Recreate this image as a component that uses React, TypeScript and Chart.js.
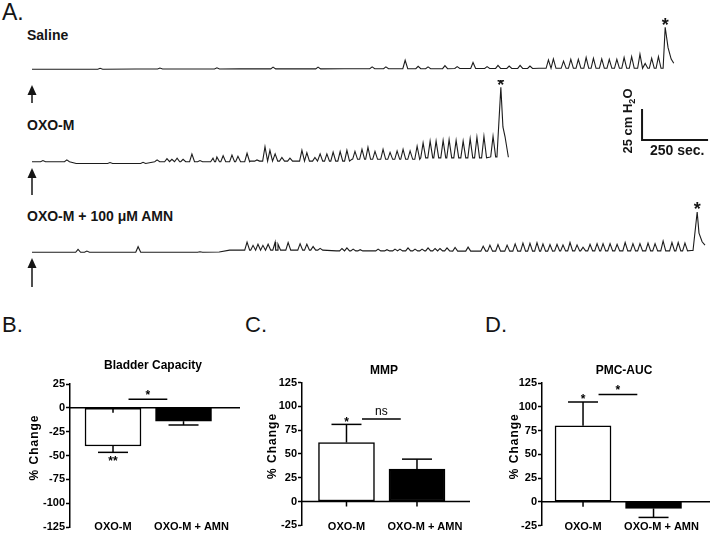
import React, { useEffect, useRef } from 'react';
import { Chart, registerables } from 'chart.js';

Chart.register(...registerables);

const FONT = "'Liberation Sans', Arial, Helvetica, sans-serif";
const INK = '#151515';
Chart.defaults.font.family = FONT;

// ---------------- Panel A: cystometrogram traces (time in s, pressure in cm H2O) ----------------
const salineBaseT = [0, 400, 800, 1200, 1600, 1950];
const salineBaseP = [0, 0.2, 0.3, 0.5, 0.7, 0.8];
const salinePeakT = [262, 492, 711, 927, 1100, 1308, 1361, 1435, 1485, 1523, 1588, 1635, 1696, 1750, 1792, 1835, 1877, 1915,
  1986, 2005, 2044, 2072, 2101, 2131, 2159, 2191, 2220, 2249, 2277, 2306, 2338, 2358, 2383, 2409];
const salinePeakP = [0.8, 0.8, 1, 1.5, 1.5, 1.5, 1.5, 7, 2, 1.5, 2.5, 1.5, 5, 1.5, 2.5, 2, 2.5, 2,
  7, 7.8, 6, 7.5, 7.5, 9, 8.3, 7.8, 7.5, 7.5, 9, 9.7, 11.7, 4, 8.3, 9.7];
const salineVoidT = [2427, 2435, 2446, 2458, 2468];
const salineVoidP = [0.8, 35, 18, 8.5, 5];

const oxoBaseT = [0, 170, 430, 840, 1230, 1495, 1765];
const oxoBaseP = [0, -1.5, 0, 0.5, 2, 3.2, 4];
const oxoPeakT = [42, 134, 300, 427, 481, 519, 538, 558, 581, 615, 646, 696, 711, 735, 769, 792, 827, 865, 896, 915,
  935, 961, 992, 1038, 1057, 1088, 1108, 1134, 1158, 1185, 1211, 1242, 1269, 1292, 1319, 1350, 1377, 1404, 1427, 1454,
  1481, 1504, 1531, 1554, 1581, 1604, 1631, 1658, 1685, 1711, 1738, 1773];
const oxoPeakP = [1, 1.5, 0.8, 1, 1.5, 2.5, 2, 3, 2, 6.4, 1, 3, 4, 5, 5.5, 4.5, 7, 1, 12, 9,
  6, 3, 2.5, 9, 7, 3, 6, 6, 7.5, 8, 9, 6.7, 8.3, 10, 6.7, 8.3, 5.8, 7, 8.3, 7,
  11, 12.5, 14, 14, 14.5, 15.3, 14.5, 14, 16, 17.2, 18, 17.2];
const oxoVoidT = [1788, 1803, 1811, 1819, 1832];
const oxoVoidP = [4, 62, 29, 21, 3.7];

const amnBaseT = [0, 400, 720, 760, 960, 1120, 1170, 1600, 2000, 2535];
const amnBaseP = [0, 0, 0.3, 1.8, 1.8, 0, 1.2, 1.0, 1.2, 1.5];
const amnPeakT = [177, 211, 408, 646, 827, 850, 869, 888, 908, 935, 946, 985, 1031, 1057, 1081, 1108, 1192, 1211, 1235, 1262,
  1331, 1365, 1396, 1415, 1446, 1473, 1500, 1523, 1550, 1569, 1596, 1627, 1677, 1735, 1761, 1792, 1827, 1858, 1888, 1915,
  1942, 1965, 1992, 2019, 2042, 2069, 2096, 2119, 2146, 2173, 2196, 2223, 2250, 2281, 2311, 2338, 2369, 2396, 2427, 2461,
  2485, 2511];
const amnPeakP = [2.5, 1, 4.7, 0.5, 6.7, 4, 5, 4, 5, 6.7, 5, 6.3, 5.4, 5, 3, 1.5, 2, 2.5, 1.5, 1,
  1.5, 1, 1.5, 1.5, 2.5, 1.5, 1.5, 2.5, 2, 2, 2.5, 3, 3.3, 4, 5, 5.5, 5, 6, 6.7, 6.5,
  7, 6, 5.5, 5.5, 5, 7, 5, 3, 5.5, 6, 6, 6, 5.5, 7, 6, 6, 6.5, 6, 8.3, 7,
  7, 6.5];
const amnVoidT = [2542, 2558, 2565, 2577, 2588];
const amnVoidP = [1.5, 33.6, 16, 8.8, 6];

const SCALE_BAR_SEC = 250;
const SCALE_BAR_CM = 25;

// ---------------- Panels B-D: bar data ----------------
const groups = ['OXO-M', 'OXO-M + AMN'];
const capacityMean = [-40, -14];
const capacityErr = [6.7, 4];
const mmpMean = [62, 34];
const mmpErr = [19, 10.5];
const aucMean = [80, -7];
const aucErr = [25, 9.5];
const capacityTicks = { min: -125, max: 25, step: 25 };
const pctTicks = { min: -25, max: 125, step: 25 };

type Pt = { x: number; y: number };
const RISE = 9;
const FALL = 10;

function buildTrace(baseT: number[], baseP: number[], peakT: number[], peakP: number[], voidT: number[], voidP: number[]): Pt[] {
  const pts: Pt[] = [];
  const levelAt = (t: number) => {
    let v = baseP[0];
    for (let i = 0; i < baseT.length; i++) if (baseT[i] <= t) v = baseP[i];
    return v;
  };
  const busy = (t: number) => peakT.some((p) => t >= p - RISE - 2 && t <= p + FALL + 2) || t >= voidT[0];
  baseT.forEach((t, i) => { if (!busy(t)) pts.push({ x: t, y: baseP[i] }); });
  peakT.forEach((t, i) => {
    const b = levelAt(t);
    pts.push({ x: t - RISE, y: b }, { x: t, y: b + peakP[i] }, { x: t + FALL, y: b });
  });
  voidT.forEach((t, i) => pts.push({ x: t, y: voidP[i] }));
  pts.sort((a, b) => a.x - b.x);
  return pts;
}

const tracePlugin = {
  id: 'traceDecor',
  afterDatasetsDraw(chart: any, _a: any, o: any) {
    const { ctx } = chart;
    const xs = chart.scales.x;
    const ys = chart.scales.y;
    const data: Pt[] = chart.data.datasets[0].data;
    let top = data[0];
    for (const p of data) if (p.y > top.y) top = p;
    ctx.save();
    ctx.fillStyle = INK;
    ctx.strokeStyle = INK;
    ctx.font = `bold 18px ${FONT}`;
    ctx.textAlign = 'center';
    ctx.textBaseline = 'alphabetic';
    ctx.fillText('*', xs.getPixelForValue(top.x), ys.getPixelForValue(top.y) - 7 + 0.575 * 18);
    const ax = xs.getPixelForValue(0);
    const yb = ys.getPixelForValue(0);
    const tip = yb + o.arrowTip;
    const bot = yb + o.arrowBottom;
    ctx.lineWidth = 1.5;
    ctx.beginPath();
    ctx.moveTo(ax, bot);
    ctx.lineTo(ax, tip + 6);
    ctx.stroke();
    ctx.beginPath();
    ctx.moveTo(ax, tip);
    ctx.lineTo(ax - 4.5, tip + 10);
    ctx.lineTo(ax + 4.5, tip + 10);
    ctx.closePath();
    ctx.fill();
    if (o.scaleBar) {
      const sb = o.scaleBar;
      const x0 = xs.getPixelForValue(sb.t);
      const y0 = ys.getPixelForValue(sb.p);
      ctx.lineWidth = 2;
      ctx.lineCap = 'square';
      ctx.beginPath();
      ctx.moveTo(x0, ys.getPixelForValue(sb.p + SCALE_BAR_CM));
      ctx.lineTo(x0, y0);
      ctx.lineTo(xs.getPixelForValue(sb.t + SCALE_BAR_SEC), y0);
      ctx.stroke();
    }
    ctx.restore();
  },
};

function traceConfig(pts: Pt[], yMin: number, yMax: number, deco: any): any {
  return {
    type: 'line',
    data: { datasets: [{ data: pts, borderColor: '#1c1c1c', borderWidth: 1.1, pointRadius: 0, tension: 0, fill: false }] },
    options: {
      animation: false,
      responsive: false,
      events: [],
      layout: { padding: { left: 12, right: 0, top: 0, bottom: 0 } },
      scales: {
        x: { type: 'linear', min: 0, max: 2615, display: false, offset: false },
        y: { type: 'linear', min: yMin, max: yMax, display: false },
      },
      plugins: { legend: { display: false }, tooltip: { enabled: false }, traceDecor: deco },
    },
    plugins: [tracePlugin],
  };
}

const glyph = (ctx: any, s: string, cx: number, cy: number) => {
  const isStar = s.includes('*');
  const size = 12;
  ctx.font = `${isStar ? 'bold ' : ''}${size}px ${FONT}`;
  ctx.textAlign = 'center';
  ctx.textBaseline = 'alphabetic';
  ctx.fillText(s, cx, cy + (isStar ? 0.575 : 0.26) * size);
};

const barPlugin = {
  id: 'panelDecor',
  afterDatasetsDraw(chart: any, _a: any, o: any) {
    const { ctx, chartArea: ca } = chart;
    const xs = chart.scales.x;
    const ys = chart.scales.y;
    const L = (x1: number, y1: number, x2: number, y2: number) => {
      ctx.beginPath(); ctx.moveTo(x1, y1); ctx.lineTo(x2, y2); ctx.stroke();
    };
    ctx.save();
    ctx.strokeStyle = '#000';
    ctx.fillStyle = '#000';
    ctx.lineWidth = 1.5;
    const y0 = ys.getPixelForValue(0);
    L(ca.left, y0, ca.right, y0);
    o.means.forEach((m: number, i: number) => {
      const cx = xs.getPixelForValue(i);
      L(cx, y0, cx, y0 + 5);
      const end = m >= 0 ? m + o.errs[i] : m - o.errs[i];
      const yv = ys.getPixelForValue(m);
      const ye = ys.getPixelForValue(end);
      L(cx, yv, cx, ye);
      L(cx - 15, ye, cx + 15, ye);
      const s = o.stars[i];
      if (s) glyph(ctx, s, cx, m >= 0 ? ye - 5.5 : ye + 5.7);
    });
    const sx1 = xs.getPixelForValue(o.sigFrom);
    const sx2 = xs.getPixelForValue(o.sigTo);
    const sy = ys.getPixelForValue(o.sigAt);
    L(sx1, sy, sx2, sy);
    glyph(ctx, o.sigText, (sx1 + sx2) / 2, sy - 7);
    ctx.font = `bold 11px ${FONT}`;
    ctx.textAlign = 'center';
    ctx.textBaseline = 'middle';
    o.labels.forEach((lab: string, i: number) => ctx.fillText(lab, xs.getPixelForValue(i) + o.labelDx[i], ca.bottom + o.labelDy));
    // y title
    ctx.save();
    ctx.translate(ca.left - o.yTitleGap, (ca.top + ca.bottom) / 2 - 8);
    ctx.rotate(-Math.PI / 2);
    ctx.font = `bold 12px ${FONT}`;
    (ctx as any).letterSpacing = '1px';
    ctx.textAlign = 'center';
    ctx.textBaseline = 'middle';
    ctx.fillText('% Change', 0, 0);
    ctx.restore();
    // panel title
    ctx.font = `bold 12px ${FONT}`;
    ctx.textAlign = 'center';
    ctx.textBaseline = 'alphabetic';
    ctx.fillText(o.title, (ca.left + ca.right) / 2 - 2, ca.top - o.titleGap);
    ctx.restore();
  },
};

function barConfig(p: any): any {
  return {
    type: 'bar',
    data: {
      datasets: [{
        data: p.means.map((m: number, i: number) => ({ x: i, y: m })),
        backgroundColor: ['#ffffff', '#000000'],
        borderColor: '#000',
        borderWidth: 1.5,
        borderSkipped: false,
        barThickness: 56,
      }],
    },
    options: {
      animation: false,
      responsive: false,
      events: [],
      layout: { padding: p.padding },
      scales: {
        x: { type: 'linear', min: p.xMin, max: p.xMax, display: false, offset: false, grid: { offset: false } },
        y: {
          min: p.ticks.min,
          max: p.ticks.max,
          ticks: { stepSize: p.ticks.step, color: '#000', font: { size: 11, weight: 'bold' }, padding: 1 },
          grid: { drawOnChartArea: false, drawTicks: true, tickLength: 4, tickColor: '#000', tickWidth: 1.5 },
          border: { display: true, color: '#000', width: 1.5 },
          afterFit: (s: any) => { s.width = p.yWidth; },
        },
      },
      plugins: {
        legend: { display: false },
        tooltip: { enabled: false },
        panelDecor: {
          means: p.means, errs: p.errs, stars: p.stars, labels: groups, labelDx: [0, 8], labelDy: p.labelDy,
          sigFrom: 0.22, sigTo: 0.77, sigAt: p.sigAt, sigText: p.sigText,
          yTitleGap: p.yTitleGap, title: p.title, titleGap: p.titleGap,
        },
      },
    },
    plugins: [barPlugin],
  };
}

function ChartBox({ left, top, width, height, make }: { left: number; top: number; width: number; height: number; make: () => any }) {
  const ref = useRef<HTMLCanvasElement>(null);
  useEffect(() => {
    const c = new Chart(ref.current as HTMLCanvasElement, make());
    return () => c.destroy();
  }, []);
  return <canvas ref={ref} width={width} height={height} style={{ position: 'absolute', left, top, width, height }} />;
}

function Txt({ x, base, size, bold, children }: { x: number; base: number; size: number; bold?: boolean; children: React.ReactNode }) {
  return (
    <div style={{ position: 'absolute', left: x, top: base - 0.8465 * size, fontSize: size, lineHeight: `${size}px`, fontWeight: bold ? 700 : 400, whiteSpace: 'nowrap', color: INK, fontFamily: FONT }}>
      {children}
    </div>
  );
}

export default function App() {
  return (
    <div style={{ position: 'absolute', left: 0, top: 0, width: 712, height: 542, background: '#fff', overflow: 'hidden', fontFamily: FONT }}>
      <Txt x={2} base={20} size={23}>A.</Txt>
      <Txt x={27} base={40} size={14} bold>Saline</Txt>
      <Txt x={27} base={130} size={14} bold>OXO-M</Txt>
      <Txt x={27} base={221} size={14} bold>OXO-M + 100 μM AMN</Txt>
      <ChartBox left={20} top={10} width={692} height={96}
        make={() => traceConfig(buildTrace(salineBaseT, salineBaseP, salinePeakT, salinePeakP, salineVoidT, salineVoidP), -30.6, 49.4,
          { arrowTip: 15.7, arrowBottom: 33.7 })} />
      <ChartBox left={20} top={80} width={692} height={120}
        make={() => traceConfig(buildTrace(oxoBaseT, oxoBaseP, oxoPeakT, oxoPeakP, oxoVoidT, oxoVoidP), -31.9, 68.1,
          { arrowTip: 6.3, arrowBottom: 33.3, scaleBar: { t: 2346, p: 18.2 } })} />
      <ChartBox left={20} top={200} width={692} height={92}
        make={() => traceConfig(buildTrace(amnBaseT, amnBaseP, amnPeakT, amnPeakP, amnVoidT, amnVoidP), -33.07, 43.6,
          { arrowTip: 5.7, arrowBottom: 34.7 })} />
      <div style={{ position: 'absolute', left: 628, top: 121, transform: 'translate(-50%, -50%) rotate(-90deg)', fontSize: 13, fontWeight: 700, lineHeight: '13px', whiteSpace: 'nowrap', color: INK }}>
        25 cm H<span style={{ fontSize: 9, position: 'relative', top: 3 }}>2</span>O
      </div>
      <Txt x={650} base={155} size={14} bold>250 sec.</Txt>

      <Txt x={2} base={333} size={22}>B.</Txt>
      <Txt x={245} base={333} size={22}>C.</Txt>
      <Txt x={485} base={333} size={22}>D.</Txt>
      <ChartBox left={0} top={350} width={240} height={190}
        make={() => barConfig({
          means: capacityMean, errs: capacityErr, stars: ['**', ''], ticks: capacityTicks,
          padding: { top: 34, bottom: 13, left: 0, right: 0 }, yWidth: 70, xMin: -0.61, xMax: 1.801,
          sigAt: 9, sigText: '*', yTitleGap: 35, title: 'Bladder Capacity', titleGap: 15, labelDy: 0,
        })} />
      <ChartBox left={240} top={350} width={230} height={190}
        make={() => barConfig({
          means: mmpMean, errs: mmpErr, stars: ['*', ''], ticks: pctTicks,
          padding: { top: 32.5, bottom: 14.7, left: 0, right: 0 }, yWidth: 62, xMin: -0.631, xMax: 1.752,
          sigAt: 86.7, sigText: 'ns', yTitleGap: 29, title: 'MMP', titleGap: 8.5, labelDy: 1.7,
        })} />
      <ChartBox left={480} top={350} width={232} height={190}
        make={() => barConfig({
          means: aucMean, errs: aucErr, stars: ['*', ''], ticks: pctTicks,
          padding: { top: 33, bottom: 14.5, left: 0, right: 2 }, yWidth: 62, xMin: -0.582, xMax: 1.801,
          sigAt: 113, sigText: '*', yTitleGap: 27, title: 'PMC-AUC', titleGap: 9, labelDy: 1.5,
        })} />
    </div>
  );
}
